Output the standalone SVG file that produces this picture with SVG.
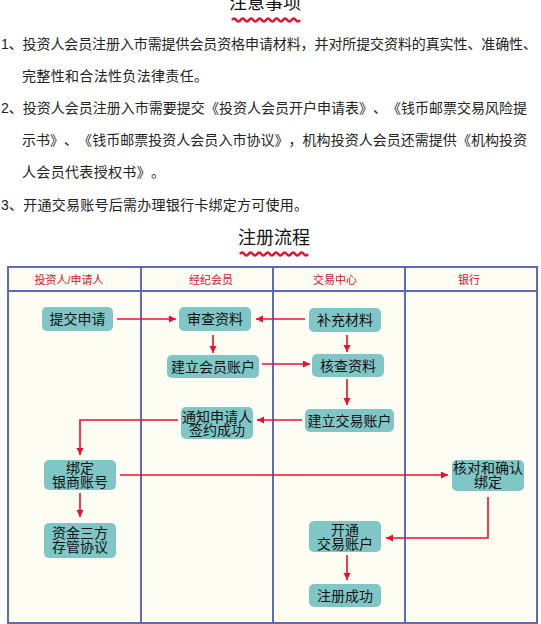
<svg xmlns="http://www.w3.org/2000/svg" width="541" height="624" viewBox="0 0 541 624">
<style>
.t{font-family:"Liberation Sans","Noto Sans CJK SC",sans-serif;text-spacing-trim:space-all;}
.p{font-size:14px;fill:#222;}
.h1{font-size:18px;fill:#111;text-anchor:middle;}
.hd{font-size:11px;fill:#e0102f;text-anchor:middle;}
.nt{font-size:14px;fill:#111;text-anchor:middle;}
.box{fill:#80c6c6;}
.wave{fill:none;stroke:#e8102a;stroke-width:2.4;}
.c{fill:none;stroke:#e8102a;stroke-width:1.6;}
.grid{fill:none;stroke:#5b6cb5;stroke-width:2;}
</style>
<defs>
<marker id="ah" markerUnits="userSpaceOnUse" markerWidth="8" markerHeight="8" refX="7" refY="3.5" orient="auto">
<path d="M0,0 L7,3.5 L0,7 z" fill="#e8102a"/>
</marker>
</defs>
<rect width="541" height="624" fill="#fff"/>
<g id="notes">
<text class="t h1" x="265" y="9">注意事项</text>
<path class="wave" d="M232,20 q2.125,-3 4.25,0 t4.25,0 t4.25,0 t4.25,0 t4.25,0 t4.25,0 t4.25,0 t4.25,0 t4.25,0 t4.25,0 t4.25,0 t4.25,0 t4.25,0 t4.25,0 t4.25,0 t4.25,0"/>
<text class="t p" x="1" y="49" textLength="536" lengthAdjust="spacing">1、投资人会员注册入市需提供会员资格申请材料，并对所提交资料的真实性、准确性、</text>
<text class="t p" x="22" y="81" textLength="186" lengthAdjust="spacing">完整性和合法性负法律责任。</text>
<text class="t p" x="1" y="113" textLength="526" lengthAdjust="spacing">2、投资人会员注册入市需要提交《投资人会员开户申请表》、《钱币邮票交易风险提</text>
<text class="t p" x="22" y="145" textLength="505" lengthAdjust="spacing">示书》、《钱币邮票投资人会员入市协议》，机构投资人会员还需提供《机构投资</text>
<text class="t p" x="22" y="177" textLength="143" lengthAdjust="spacing">人会员代表授权书》。</text>
<text class="t p" x="1" y="210" textLength="307" lengthAdjust="spacing">3、开通交易账号后需办理银行卡绑定方可使用。</text>
</g>
<g id="flow-title">
<text class="t h1" x="274" y="244">注册流程</text>
<path class="wave" d="M240,254 q2.125,-3 4.25,0 t4.25,0 t4.25,0 t4.25,0 t4.25,0 t4.25,0 t4.25,0 t4.25,0 t4.25,0 t4.25,0 t4.25,0 t4.25,0 t4.25,0 t4.25,0 t4.25,0 t4.25,0"/>
</g>
<g id="lanes">
<rect x="8" y="267" width="529" height="356" fill="#fdfdf3"/>
<rect class="grid" x="8" y="267" width="529" height="356"/>
<line class="grid" x1="8" y1="291" x2="537" y2="291"/>
<line class="grid" x1="141" y1="267" x2="141" y2="623"/>
<line class="grid" x1="273" y1="267" x2="273" y2="623"/>
<line class="grid" x1="405" y1="267" x2="405" y2="623"/>
<text class="t hd" x="69" y="284">投资人/申请人</text>
<text class="t hd" x="211" y="284">经纪会员</text>
<text class="t hd" x="335" y="284">交易中心</text>
<text class="t hd" x="469" y="284">银行</text>
</g>
<g id="connectors">
<line class="c" x1="117" y1="319" x2="176" y2="319" marker-end="url(#ah)"/>
<line class="c" x1="305" y1="319" x2="256" y2="319" marker-end="url(#ah)"/>
<line class="c" x1="213" y1="335" x2="213" y2="353" marker-end="url(#ah)"/>
<line class="c" x1="347" y1="335" x2="347" y2="352" marker-end="url(#ah)"/>
<line class="c" x1="262" y1="364" x2="310" y2="364" marker-end="url(#ah)"/>
<line class="c" x1="347" y1="379" x2="347" y2="405" marker-end="url(#ah)"/>
<line class="c" x1="302" y1="420" x2="257" y2="420" marker-end="url(#ah)"/>
<polyline class="c" points="178,420 80,420 80,455" marker-end="url(#ah)"/>
<line class="c" x1="120" y1="475" x2="448" y2="475" marker-end="url(#ah)"/>
<polyline class="c" points="488,497 488,538 386,538" marker-end="url(#ah)"/>
<line class="c" x1="80" y1="493" x2="80" y2="517" marker-end="url(#ah)"/>
<line class="c" x1="347" y1="555" x2="347" y2="580" marker-end="url(#ah)"/>
</g>
<g id="n-submit"><rect class="box" x="42" y="307" width="71" height="24" rx="5"/><text class="t nt" x="77.5" y="324">提交申请</text></g>
<g id="n-review"><rect class="box" x="179" y="307" width="72" height="24" rx="5"/><text class="t nt" x="215" y="324">审查资料</text></g>
<g id="n-supplement"><rect class="box" x="309" y="308" width="72" height="24" rx="5"/><text class="t nt" x="345" y="325">补充材料</text></g>
<g id="n-member-account"><rect class="box" x="167" y="355" width="92" height="23" rx="5"/><text class="t nt" x="213" y="371.5">建立会员账户</text></g>
<g id="n-check"><rect class="box" x="312" y="354" width="72" height="23" rx="5"/><text class="t nt" x="348" y="370.5">核查资料</text></g>
<g id="n-trade-account"><rect class="box" x="305" y="409" width="89" height="23" rx="5"/><text class="t nt" x="349.5" y="425.5">建立交易账户</text></g>
<g id="n-notify"><rect class="box" x="181" y="407" width="72" height="32" rx="5"/><text class="t nt" x="217" y="421.5">通知申请人</text><text class="t nt" x="217" y="435">签约成功</text></g>
<g id="n-bind"><rect class="box" x="44" y="460" width="72" height="30" rx="5"/><text class="t nt" x="80" y="473">绑定</text><text class="t nt" x="80" y="487">银商账号</text></g>
<g id="n-confirm"><rect class="box" x="452" y="460" width="72" height="31" rx="5"/><text class="t nt" x="488" y="473">核对和确认</text><text class="t nt" x="488" y="487">绑定</text></g>
<g id="n-custody"><rect class="box" x="44" y="523" width="72" height="35" rx="5"/><text class="t nt" x="80" y="538">资金三方</text><text class="t nt" x="80" y="552">存管协议</text></g>
<g id="n-open"><rect class="box" x="309" y="521" width="72" height="31" rx="5"/><text class="t nt" x="345" y="534.5">开通</text><text class="t nt" x="345" y="548.5">交易账户</text></g>
<g id="n-success"><rect class="box" x="309" y="584" width="72" height="23" rx="5"/><text class="t nt" x="345" y="600.5">注册成功</text></g>
</svg>
